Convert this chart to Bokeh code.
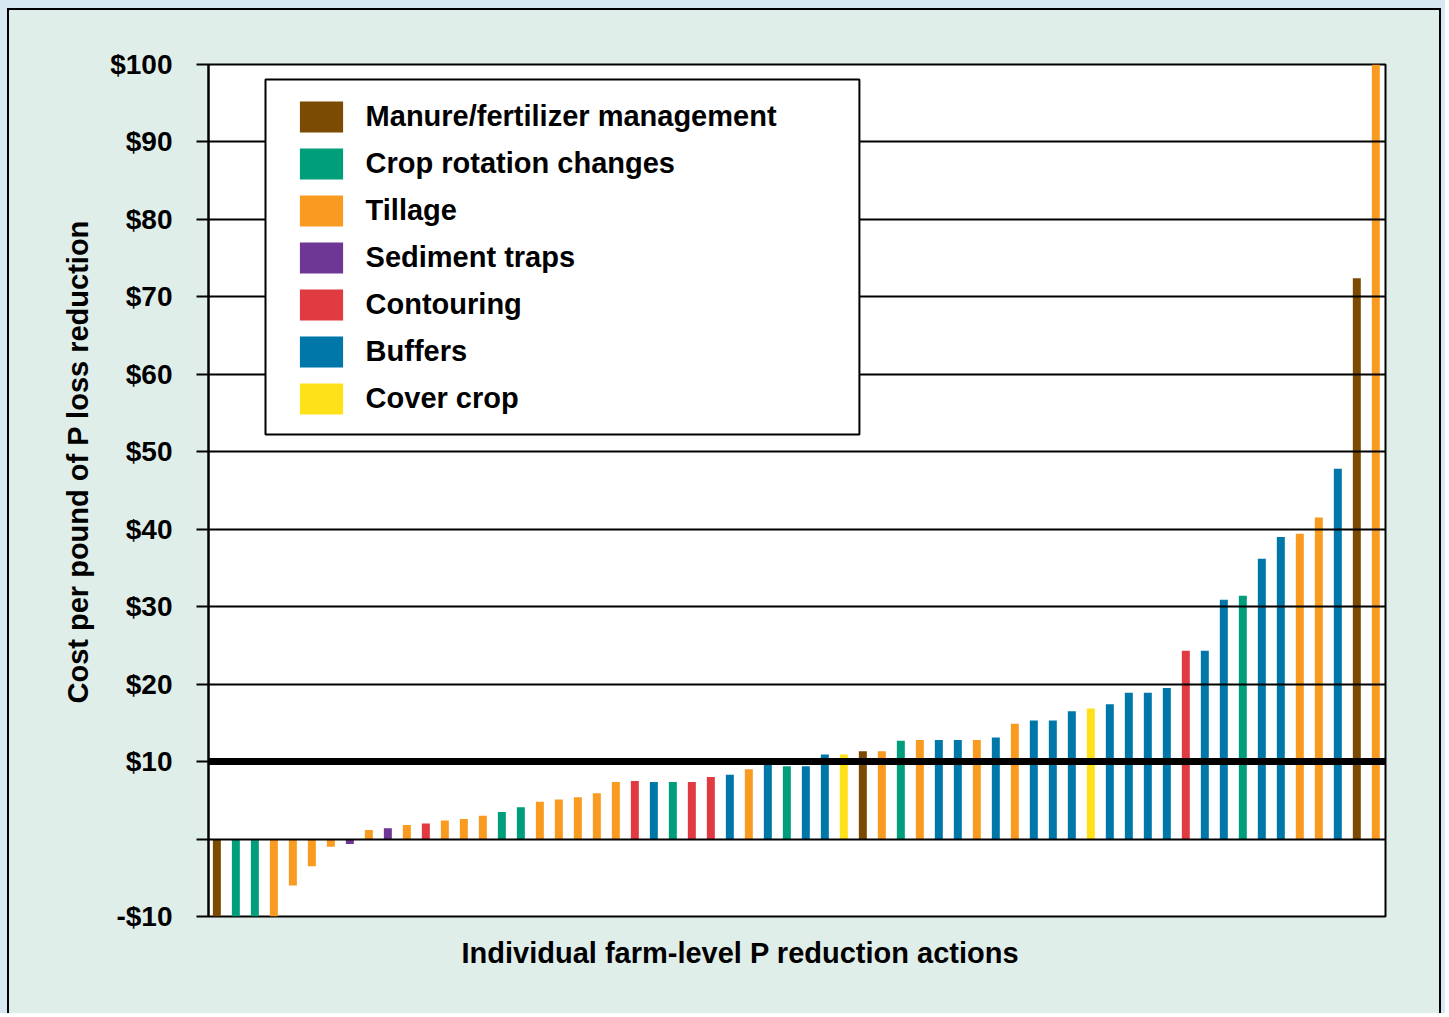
from bokeh.plotting import figure
from bokeh.layouts import column
from bokeh.models import (ColumnDataSource, Range1d, FixedTicker, CustomJSTickFormatter,
                          Span, BoxAnnotation, Legend, LegendItem, Title)
from bokeh.embed import file_html
from bokeh.resources import INLINE

# ---- data ----
categories_order = ["Manure/fertilizer management", "Crop rotation changes", "Tillage",
                    "Sediment traps", "Contouring", "Buffers", "Cover crop"]
category_colors = ["#7B4A03", "#009E7B", "#F99B21", "#6E3795", "#E03B40", "#0077A9", "#FFE11A"]

# category code per action (M, C, T, S, R, B, Y), left to right
action_types = ["M", "C", "C", "T", "T", "T", "T", "S", "T", "S",
                "T", "R", "T", "T", "T", "C", "C", "T", "T", "T",
                "T", "T", "R", "B", "C", "R", "R", "B", "T", "B",
                "C", "B", "B", "Y", "M", "T", "C", "T", "B", "B",
                "T", "B", "T", "B", "B", "B", "Y", "B", "B", "B",
                "B", "R", "B", "B", "C", "B", "B", "T", "T", "B",
                "M", "T"]
cost_values = [-10, -10, -10, -10, -6.0, -3.5, -1.0, -0.65, 1.16, 1.4,
               1.8, 2.0, 2.4, 2.6, 3.0, 3.5, 4.1, 4.8, 5.1, 5.4,
               5.9, 7.35, 7.5, 7.35, 7.35, 7.35, 8.0, 8.3, 9.0, 9.6,
               9.4, 9.4, 10.9, 10.9, 11.35, 11.35, 12.7, 12.8, 12.8, 12.8,
               12.8, 13.1, 14.9, 15.3, 15.3, 16.5, 16.85, 17.4, 18.9, 18.9,
               19.5, 24.3, 24.3, 30.9, 31.4, 36.2, 39.0, 39.4, 41.5, 47.8,
               72.4, 100.3]
type_codes = ["M", "C", "T", "S", "R", "B", "Y"]
y_ticks = [-10, 0, 10, 20, 30, 40, 50, 60, 70, 80, 90, 100]
target_cost = 10

FONT = "Liberation Sans"

p = figure(width=1434, height=1005, output_backend="svg", toolbar_location=None,
           x_range=Range1d(-0.44, 61.51), y_range=Range1d(-10, 100),
           min_border_left=199, min_border_right=58, min_border_top=54, min_border_bottom=99)
p.styles = {"border-top": "2px solid black", "border-left": "2px solid black",
            "border-right": "2px solid black"}
p.background_fill_color = "white"
p.border_fill_color = "#E0EEEA"
p.outline_line_color = "black"
p.outline_line_width = 2

renderers = []
for code, color in zip(type_codes, category_colors):
    xs = [i for i, t in enumerate(action_types) if t == code]
    tops = [cost_values[i] for i in xs]
    src = ColumnDataSource(dict(x=xs, top=tops))
    r = p.vbar(x="x", top="top", bottom=0, width=0.42, source=src,
               fill_color=color, line_color=None)
    renderers.append(r)

# axes
p.xaxis.visible = False
yax = p.yaxis[0]
yax.ticker = FixedTicker(ticks=y_ticks)
yax.formatter = CustomJSTickFormatter(code="""
    if (tick == 0) return "";
    return tick < 0 ? "-$" + Math.abs(tick) : "$" + tick;
""")
yax.major_label_text_font = FONT
yax.major_label_text_font_style = "bold"
yax.major_label_text_font_size = "28px"
yax.major_label_text_color = "black"
yax.major_label_standoff = 24
yax.major_tick_out = 12
yax.major_tick_in = 0
yax.major_tick_line_color = "black"
yax.major_tick_line_width = 2
yax.minor_tick_line_color = None
yax.axis_line_color = "black"
yax.axis_line_width = 2

p.xgrid.visible = False
p.ygrid.ticker = FixedTicker(ticks=y_ticks)
p.ygrid.grid_line_color = "black"
p.ygrid.grid_line_width = 2
p.ygrid.level = "guide"

thick = Span(location=target_cost, dimension="width", line_color="black", line_width=7)
thick.level = "guide"
p.add_layout(thick)

# legend box
box = BoxAnnotation(left=2.56, right=33.82, bottom=52.23, top=98.06,
                    fill_color="white", fill_alpha=1, line_color="black", line_width=2,
                    line_alpha=1, propagate_hover=False)
p.add_layout(box)

legend = Legend(items=[LegendItem(label=lab, renderers=[r]) for lab, r in zip(categories_order, renderers)],
                location=(85.6, 494.5), padding=0, margin=0, spacing=0,
                glyph_width=54, glyph_height=39, label_height=47, label_standoff=18,
                border_line_color=None, background_fill_alpha=0,
                label_text_font=FONT, label_text_font_style="bold",
                label_text_font_size="29px", label_text_color="black")
p.add_layout(legend)

ytitle = Title(text="Cost per pound of P loss reduction", align="left", offset=213,
               text_font=FONT, text_font_style="bold", text_font_size="29px", text_color="black",
               standoff=28)
p.add_layout(ytitle, "left")

xtitle = Title(text="Individual farm-level P reduction actions", align="left", offset=253,
               text_font=FONT, text_font_style="bold", text_font_size="29px", text_color="black",
               standoff=36)
p.add_layout(xtitle, "below")

page = column(p, styles={"background-color": "#D8E8F2", "padding-top": "8px",
                         "padding-left": "7px", "padding-right": "4px"})

open("out.html", "w").write(file_html(page, INLINE))
